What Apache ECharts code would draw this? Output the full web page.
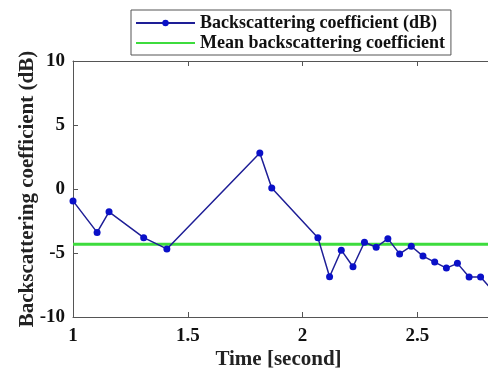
<!DOCTYPE html>
<html>
<head>
<meta charset="utf-8">
<script src="https://cdn.jsdelivr.net/npm/echarts@6/dist/echarts.min.js"></script>
<style>
  html, body { margin: 0; padding: 0; background: #fff; }
  #chart { width: 488px; height: 374px; }
</style>
</head>
<body>
<div id="chart"></div>
<script>
// data
var timeSec = [1.0, 1.105, 1.157, 1.308, 1.409, 1.814, 1.866, 2.067, 2.118, 2.169, 2.22, 2.27,
               2.321, 2.372, 2.423, 2.474, 2.525, 2.576, 2.627, 2.675, 2.726, 2.776, 2.827];
var backscatter = [-0.93, -3.39, -1.78, -3.8, -4.68, 2.82, 0.08, -3.8, -6.85, -4.78, -6.07, -4.16,
                   -4.55, -3.88, -5.07, -4.47, -5.24, -5.71, -6.18, -5.81, -6.87, -6.87, -7.9];
var meanBackscatter = -4.32;
var meanSpan = [1, 3];
var seriesNames = ['Backscattering coefficient (dB)', 'Mean backscattering coefficient'];

var font = '"Liberation Serif", "Times New Roman", serif';
var axisColor = '#555';

var chart = echarts.init(document.getElementById('chart'));

var lineData = timeSec.map(function (t, i) { return [t, backscatter[i]]; });
var meanData = meanSpan.map(function (t) { return [t, meanBackscatter]; });

chart.setOption({
  animation: false,
  textStyle: { fontFamily: font },
  // the axes run on past the right edge of the picture (x = 3 is cut off)
  grid: { left: 73, top: 61, width: 459, height: 256, outerBoundsMode: 'none', containLabel: false },
  legend: {
    orient: 'vertical',
    left: 131,
    top: 10,
    padding: [3, 6, 2, 4],
    itemGap: 0,
    itemWidth: 59,
    itemHeight: 8,
    borderColor: '#555',
    borderWidth: 1,
    backgroundColor: '#fff',
    textStyle: { fontFamily: font, fontWeight: 'bold', fontSize: 18, lineHeight: 20, color: '#111' },
    data: [
      { name: seriesNames[0] },
      { name: seriesNames[1], itemStyle: { opacity: 0 } }
    ]
  },
  xAxis: [
    {
      type: 'value',
      min: 1, max: 3, interval: 0.5,
      name: 'Time [second]',
      nameLocation: 'middle',
      nameGap: 32,
      nameMoveOverlap: false,
      nameTextStyle: { fontFamily: font, fontWeight: 'bold', fontSize: 21, color: '#222', padding: [0, 48, 0, 0] },
      axisLine: { show: true, onZero: false, lineStyle: { color: axisColor, width: 1 } },
      axisTick: { inside: true, length: 5, lineStyle: { color: axisColor } },
      axisLabel: { margin: 10, fontFamily: font, fontWeight: 'bold', fontSize: 19, color: '#111' },
      splitLine: { show: false }
    },
    {
      type: 'value', position: 'top',
      min: 1, max: 3, interval: 0.5,
      axisLine: { show: true, onZero: false, lineStyle: { color: axisColor, width: 1 } },
      axisTick: { inside: true, length: 5, lineStyle: { color: axisColor } },
      axisLabel: { show: false },
      splitLine: { show: false }
    }
  ],
  yAxis: [
    {
      type: 'value',
      min: -10, max: 10, interval: 5,
      name: 'Backscattering coefficient (dB)',
      nameLocation: 'middle',
      nameGap: 35,
      nameMoveOverlap: false,
      nameTextStyle: { fontFamily: font, fontWeight: 'bold', fontSize: 21, color: '#222' },
      axisLine: { show: true, onZero: false, lineStyle: { color: axisColor, width: 1 } },
      axisTick: { show: true, inside: true, length: 5, lineStyle: { color: axisColor } },
      axisLabel: { margin: 8, fontFamily: font, fontWeight: 'bold', fontSize: 19, color: '#111' },
      splitLine: { show: false }
    }
  ],
  series: [
    {
      name: seriesNames[1],
      type: 'line',
      data: meanData,
      symbol: 'none',
      lineStyle: { color: '#3ddc3d', width: 3 },
      itemStyle: { color: '#3ddc3d' },
      z: 2
    },
    {
      name: seriesNames[0],
      type: 'line',
      data: lineData,
      symbol: 'circle',
      symbolSize: 7,
      lineStyle: { color: '#1e1e96', width: 1.5 },
      itemStyle: { color: '#0a10c8' },
      z: 3
    }
  ]
});
</script>
</body>
</html>
